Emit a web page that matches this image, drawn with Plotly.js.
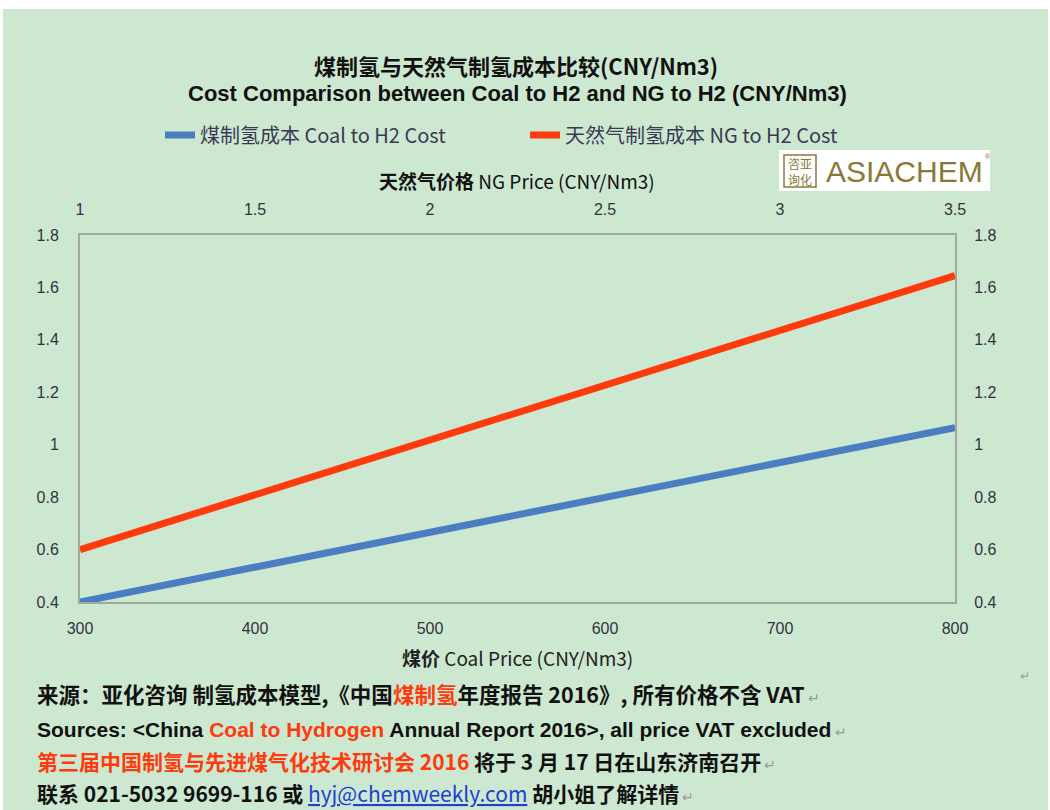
<!DOCTYPE html>
<html>
<head>
<meta charset="utf-8">
<script src="https://cdn.plot.ly/plotly-3.0.1.min.js"></script>
<style>
  html, body { margin:0; padding:0; background:#ffffff; }
  #chart { position:absolute; left:3px; top:9px; width:1045px; height:801px; }
</style>
</head>
<body>
<div id="chart"></div>
<script>
// ---- data ----
const coalPrice = [300, 400, 500, 600, 700, 800];          // CNY (bottom axis)
const coalH2Cost = [0.40, 0.533, 0.666, 0.80, 0.933, 1.065];
const ngPrice = [1, 1.5, 2, 2.5, 3, 3.5];                   // CNY/Nm3 (top axis)
const ngH2Cost = [0.60, 0.81, 1.02, 1.23, 1.44, 1.645];
const yTicks = [0.4, 0.6, 0.8, 1, 1.2, 1.4, 1.6, 1.8];
const yTickText = ['0.4', '0.6', '0.8', '1', '1.2', '1.4', '1.6', '1.8'];
const ngTickText = ['1', '1.5', '2', '2.5', '3', '3.5'];

// ---- geometry helpers (absolute window pixels -> paper coords) ----
const DIV_L = 3, DIV_T = 9, M_L = 77, M_T = 226, PW = 875, PH = 367;
const px = X => (X - DIV_L - M_L) / PW;
const py = Y => 1 - (Y - DIV_T - M_T) / PH;

const FONT = 'Liberation Sans, Arial, Noto Sans CJK SC, sans-serif';
const CJK = 'Noto Sans CJK SC, Liberation Sans, sans-serif';
const RED = '#ff3a0c';
const BLUE = '#4a7ec1';
const TXT = '#333340';

const traces = [
  { x: coalPrice, y: coalH2Cost, xaxis: 'x', yaxis: 'y', mode: 'lines',
    name: '煤制氢成本 Coal to H2 Cost', line: { color: BLUE, width: 7 }, hoverinfo: 'x+y' },
  { x: ngPrice, y: ngH2Cost, xaxis: 'x2', yaxis: 'y2', mode: 'lines',
    name: '天然气制氢成本 NG to H2 Cost', line: { color: RED, width: 7 }, hoverinfo: 'x+y' }
];

const axCommon = {
  showgrid: false, zeroline: false, showline: true, linecolor: '#a0a8a0', linewidth: 2,
  ticks: '', tickfont: { family: FONT, size: 16, color: TXT }
};

const ann = (X, Y, text, opts) => Object.assign({
  xref: 'paper', yref: 'paper', x: px(X), y: py(Y), text: text, showarrow: false,
  xanchor: 'left', yanchor: 'middle', font: { family: CJK, size: 21, color: '#111' }
}, opts || {});

const R = s => `<span style="color:${RED}">${s}</span>`;
const PM = '<span style="color:#9a9a9a;font-weight:normal;font-size:14px"> ↵</span>';

const annotations = [
  ann(516, 65, '<b>煤制氢与天然气制氢成本比较(CNY/Nm3)</b>', { xanchor: 'center', font: { family: CJK, size: 22, color: '#111' } }),
  ann(517, 93, '<b>Cost Comparison between Coal to H2 and NG to H2 (CNY/Nm3)</b>', { xanchor: 'center', font: { family: FONT, size: 22, color: '#111' } }),
  ann(517, 180, '<b>天然气价格</b> NG Price (CNY/Nm3)', { xanchor: 'center', font: { family: CJK, size: 19, color: '#111' } }),
  ann(517, 657, '<b>煤价</b> Coal Price (CNY/Nm3)', { xanchor: 'center', font: { family: CJK, size: 19, color: '#222' } }),
  // logo
  ann(824, 171, 'ASIACHEM', { font: { family: 'Liberation Sans, sans-serif', size: 30, color: '#8a7838' } }),
  ann(983, 156, '®', { xanchor: 'left', font: { family: FONT, size: 7, color: '#8a7838' } }),
  ann(800, 171, '咨亚<br>询化', { xanchor: 'center', font: { family: CJK, size: 12, color: '#8a7838' } }),
  // footer
  ann(35, 693, '<b>来源：亚化咨询 制氢成本模型,《中国' + R('煤制氢') + '年度报告 2016》, 所有价格不含 VAT</b>' + PM, { font: { family: CJK, size: 21.5, color: '#111' } }),
  ann(35, 729, '<b>Sources: &lt;China ' + R('Coal to Hydrogen') + ' Annual Report 2016&gt;, all price VAT excluded</b>' + PM, { font: { family: FONT, size: 21, color: '#111' } }),
  ann(35, 761, '<b>' + R('第三届中国制氢与先进煤气化技术研讨会 2016') + ' 将于 3 月 17 日在山东济南召开</b>' + PM),
  ann(35, 793, '<b>联系 021-5032 9699-116 或 </b><span style="color:#1f3fd0;text-decoration:underline">hyj@chemweekly.com</span><b> 胡小姐了解详情</b>' + PM),
  ann(1018, 676, '↵', { font: { family: FONT, size: 12, color: '#9a9a9a' } })
];

const layout = {
  width: 1045, height: 801,
  paper_bgcolor: 'rgb(205,232,208)', plot_bgcolor: 'rgba(0,0,0,0)',
  margin: { l: M_L, r: 1045 - M_L - PW, t: M_T, b: 801 - M_T - PH, pad: 0 },
  showlegend: true,
  legend: {
    orientation: 'h', x: px(160), y: py(135), xanchor: 'left', yanchor: 'middle',
    entrywidth: 320, entrywidthmode: 'pixels', bgcolor: 'rgba(0,0,0,0)',
    font: { family: CJK, size: 20, color: '#3a3a55' }
  },
  xaxis: Object.assign({}, axCommon, { range: [300, 800], tickvals: coalPrice, side: 'bottom', anchor: 'y', ticklabelstandoff: 11 }),
  xaxis2: Object.assign({}, axCommon, { range: [1, 3.5], tickvals: ngPrice, ticktext: ngTickText, side: 'top', overlaying: 'x', anchor: 'y2', ticklabelstandoff: 12 }),
  yaxis: Object.assign({}, axCommon, { range: [0.4, 1.8], tickvals: yTicks, ticktext: yTickText, side: 'left', anchor: 'x', ticklabelstandoff: 16 }),
  yaxis2: Object.assign({}, axCommon, { range: [0.4, 1.8], tickvals: yTicks, ticktext: yTickText, side: 'right', overlaying: 'y', anchor: 'x2', ticklabelstandoff: 14 }),
  shapes: [
    { type: 'rect', xref: 'paper', yref: 'paper', x0: px(779), x1: px(990), y0: py(150), y1: py(191),
      fillcolor: '#ffffff', line: { width: 0 }, layer: 'below' },
    { type: 'rect', xref: 'paper', yref: 'paper', x0: px(784), x1: px(816), y0: py(155), y1: py(187),
      fillcolor: 'rgba(0,0,0,0)', line: { width: 1.5, color: '#8a7838' } }
  ],
  annotations: annotations
};

Plotly.newPlot('chart', traces, layout, { displayModeBar: false, staticPlot: true });
</script>
</body>
</html>
